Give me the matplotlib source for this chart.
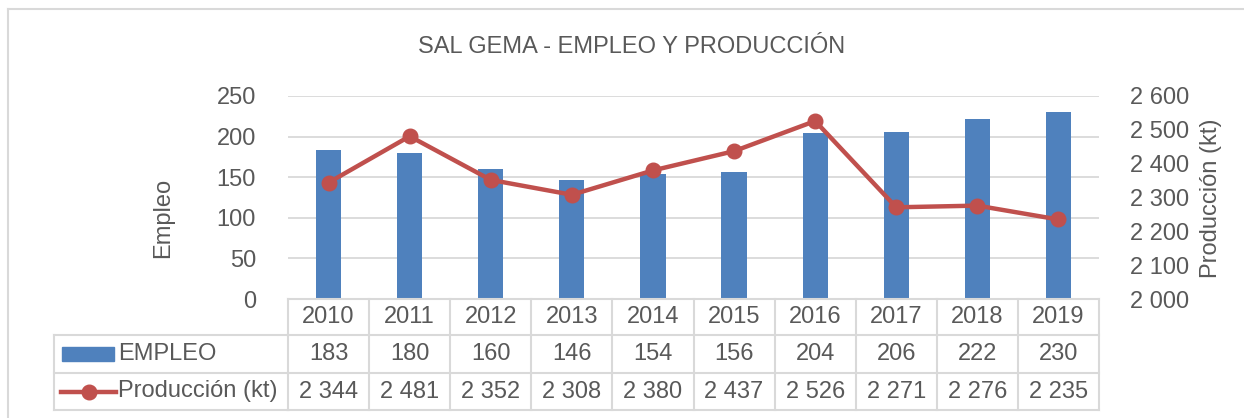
import numpy as np
import matplotlib
matplotlib.use('Agg')
import matplotlib.pyplot as plt
from matplotlib.lines import Line2D
from matplotlib.patches import Rectangle
from matplotlib.transforms import blended_transform_factory

# ---------------- data ----------------
years = ['2010', '2011', '2012', '2013', '2014', '2015', '2016', '2017', '2018', '2019']
empleo = [183, 180, 160, 146, 154, 156, 204, 206, 222, 230]
produccion = [2344, 2481, 2352, 2308, 2380, 2437, 2526, 2271, 2276, 2235]
empleo_ticks = [0, 50, 100, 150, 200, 250]
prod_ticks = [2000, 2100, 2200, 2300, 2400, 2500, 2600]
title = 'SAL GEMA - EMPLEO Y PRODUCCIÓN'
label_left = 'Empleo'
label_right = 'Producción (kt)'
series_names = ['EMPLEO', 'Producción (kt)']

# ---------------- style ----------------
plt.rcParams['font.family'] = ['Liberation Sans', 'DejaVu Sans']
FS = 17
TXT = '#595959'
GRID = '#D9D9D9'
BLUE = '#4F81BD'
RED = '#C0504D'

W, H = 1244, 418
fig = plt.figure(figsize=(W / 100, H / 100), dpi=100)
fig.patch.set_facecolor('white')


def fx(px):
    return px / W


def fy(py):
    return 1 - py / H


def fmt(v):
    return f'{v:,}'.replace(',', ' ')


# chart border (outer frame)
fig.add_artist(Line2D([fx(8), fx(1244)], [fy(9), fy(9)], color=GRID, lw=1.5))
fig.add_artist(Line2D([fx(8), fx(8)], [fy(9), fy(418)], color=GRID, lw=1.5))

L, R, T, B = 288, 1099, 96, 299
ax = fig.add_axes([fx(L), fy(B), fx(R) - fx(L), fy(T) - fy(B)])
x = np.arange(len(years))
ax.bar(x, empleo, width=0.31, color=BLUE, zorder=2)
ax.set_xlim(-0.5, len(years) - 0.5)
ax.set_ylim(0, 250)
ax.set_yticks(empleo_ticks)
ax.set_yticklabels([fmt(v) for v in empleo_ticks])
ax.set_xticks([])
ax.grid(axis='y', color=GRID, lw=1.3, zorder=0)
ax.set_axisbelow(True)
for s in ax.spines.values():
    s.set_visible(False)
ax.tick_params(axis='y', length=0, labelsize=FS, colors=TXT, pad=23)

ax2 = ax.twinx()
ax2.plot(x, produccion, color=RED, lw=3.2, marker='o', ms=10.5, zorder=3)
ax2.set_ylim(2000, 2600)
ax2.set_yticks(prod_ticks)
ax2.set_yticklabels([fmt(v) for v in prod_ticks])
for s in ax2.spines.values():
    s.set_visible(False)
ax2.tick_params(axis='y', length=0, labelsize=FS, colors=TXT, pad=22)

# titles / axis labels
fig.text(fx(632), fy(47), title, ha='center', va='center', fontsize=FS, color=TXT)
fig.text(fx(163), fy(218), label_left, rotation=90, ha='center', va='center', fontsize=FS, color=TXT)
fig.text(fx(1211), fy(198), label_right, rotation=90, ha='center', va='center', fontsize=FS, color=TXT)

# ---------------- data table ----------------
tr = blended_transform_factory(ax.transData, fig.transFigure)
rows_y = [299, 335, 373, 410]
n = len(years)
lw_t = 1.5
# horizontal lines over value columns
for py in rows_y:
    fig.add_artist(Line2D([-0.5, n - 0.5], [fy(py), fy(py)], transform=tr, color=GRID, lw=lw_t))
# vertical column lines
for i in range(n + 1):
    fig.add_artist(Line2D([i - 0.5, i - 0.5], [fy(rows_y[0]), fy(rows_y[-1])], transform=tr,
                          color=GRID, lw=lw_t))
# legend column
LX = 54
for py in rows_y[1:]:
    fig.add_artist(Line2D([fx(LX), fx(L)], [fy(py), fy(py)], color=GRID, lw=lw_t))
fig.add_artist(Line2D([fx(LX), fx(LX)], [fy(rows_y[1]), fy(rows_y[-1])], color=GRID, lw=lw_t))

# cell texts
def cy(r):
    return fy((rows_y[r] + rows_y[r + 1]) / 2)

for i in range(n):
    fig.text(i, cy(0), years[i], transform=tr, ha='center', va='center', fontsize=FS, color=TXT)
    fig.text(i, cy(1), fmt(empleo[i]), transform=tr, ha='center', va='center', fontsize=FS, color=TXT)
    fig.text(i, cy(2), fmt(produccion[i]), transform=tr, ha='center', va='center', fontsize=FS, color=TXT)

# legend keys
fig.add_artist(Rectangle((fx(62), fy(361)), fx(114) - fx(62), fy(347) - fy(361), color=BLUE))
fig.text(fx(118), cy(1), series_names[0], ha='left', va='center', fontsize=FS, color=TXT)
fig.add_artist(Line2D([fx(61), fx(116)], [cy(2), cy(2)], color=RED, lw=3.2))
fig.add_artist(Line2D([fx(88.5)], [cy(2)], color=RED, marker='o', ms=10.5, lw=0))
fig.text(fx(118), cy(2), series_names[1], ha='left', va='center', fontsize=FS, color=TXT)

fig.savefig('out.png', dpi=100, facecolor='white')
